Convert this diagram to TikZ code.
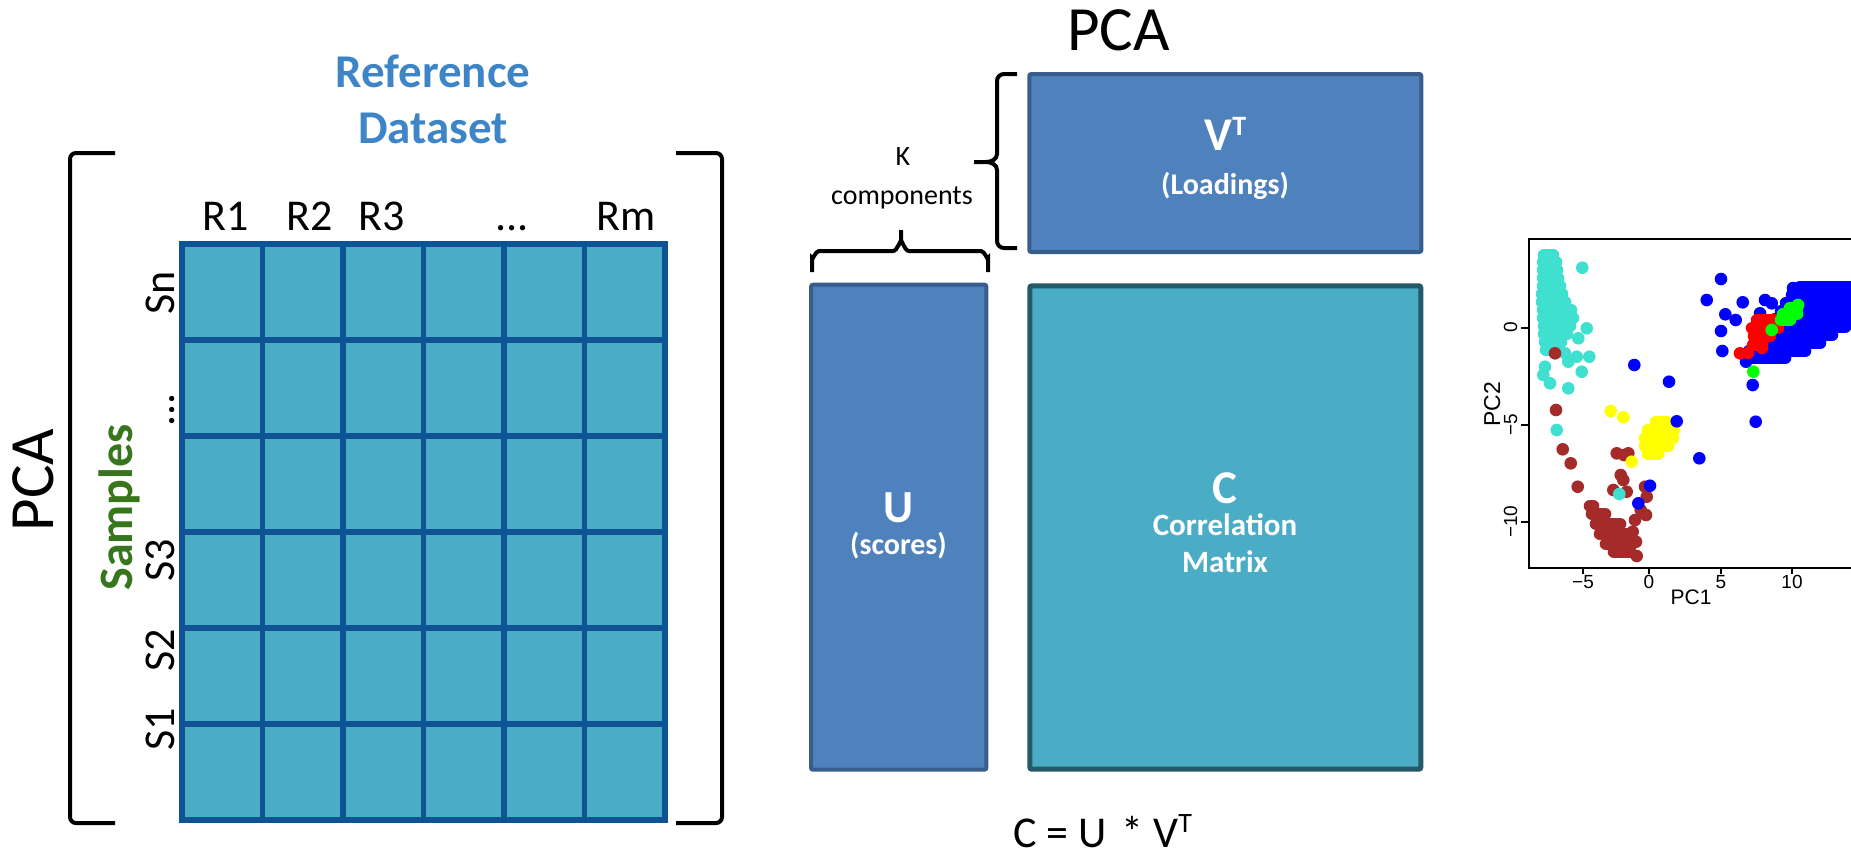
\documentclass[tikz,border=0pt]{standalone}
\usepackage{fontspec}
\setmainfont{Carlito}
\newfontfamily\plotfont{Liberation Sans}
\newcommand\myfs[1]{\fontsize{#1}{#1}\selectfont}
\definecolor{gridfill}{RGB}{75,172,198}
\definecolor{gridline}{RGB}{14,84,148}
\definecolor{boxblue}{RGB}{79,129,189}
\definecolor{boxblueedge}{RGB}{56,93,138}
\definecolor{boxteal}{RGB}{75,172,198}
\definecolor{boxtealedge}{RGB}{35,89,104}
\definecolor{refblue}{RGB}{61,133,198}
\definecolor{samplegreen}{RGB}{56,118,29}
\definecolor{pturq}{RGB}{64,224,208}
\definecolor{pbrown}{RGB}{165,42,42}
\definecolor{pyellow}{RGB}{255,255,0}
\definecolor{pblue}{RGB}{0,0,255}
\definecolor{pred}{RGB}{255,0,0}
\definecolor{pgreen}{RGB}{0,255,0}
\begin{document}
\begin{tikzpicture}[x=1pt,y=-1pt,
  lbl/.style={inner sep=0, anchor=base},
  rlbl/.style={inner sep=0, anchor=base, rotate=90},
  gridstroke/.style={draw=gridline, line width=5.3, line cap=rect},
  brk/.style={draw=black, line width=4, rounded corners=6},
  bracestroke/.style={draw=black, line width=4},
  ubox/.style={draw=boxblueedge, fill=boxblue, line width=4, rounded corners=2, inner sep=0},
  cbox/.style={draw=boxtealedge, fill=boxteal, line width=5, rounded corners=2, inner sep=0},
  wtxt/.style={inner sep=0, anchor=base, text=white},
  dotrow/.style={line width=12.6, line cap=round}
]
\useasboundingbox (0,0) rectangle (1851,855);

% ---------- left matrix ----------
\fill[gridfill] (182,244) rectangle (665,820);
\foreach \i in {0,...,6} \draw[gridstroke] ({182+80.5*\i},244) -- ({182+80.5*\i},820);
\foreach \j in {0,...,6} \draw[gridstroke] (182,{244+96*\j}) -- (665,{244+96*\j});

\draw[brk] (115,153) -- (70,153) -- (70,823) -- (115,823);
\draw[brk] (676,153) -- (722,153) -- (722,823) -- (676,823);

\node[lbl, text=refblue] (ref1) at (433,87.3) {\myfs{47}\bfseries Reference};
\node[lbl, text=refblue] (ref2) at (433,143.3) {\myfs{47}\bfseries Dataset};

\node[lbl] (r1) at (226,230) {\myfs{44}R1};
\node[lbl] (r2) at (310,230) {\myfs{44}R2};
\node[lbl] (r3) at (382,230) {\myfs{44}R3};
\node[lbl] (rdots) at (512,230) {\myfs{44}...};
\node[lbl] (rm) at (626,230) {\myfs{44}Rm};

\node[rlbl] (sn) at (174,293) {\myfs{44}Sn};
\node[rlbl] (sdots) at (174,410) {\myfs{44}...};
\node[rlbl] (s3) at (174,560) {\myfs{44}S3};
\node[rlbl] (s2) at (174,650) {\myfs{44}S2};
\node[rlbl] (s1) at (174,729) {\myfs{44}S1};

\node[rlbl, text=samplegreen] (samples) at (132.7,507.5) {\myfs{48}\bfseries Samples};
\node[rlbl] (pcaleft) at (53,480) {\myfs{63}PCA};

% ---------- middle decomposition ----------
\node[lbl] (pcatop) at (1118.5,50) {\myfs{63}PCA};

\node[ubox, minimum width=392, minimum height=178] (vt) at (1225.3,163) {};
\node[ubox, minimum width=175.3, minimum height=485] (u) at (898.7,527.2) {};
\node[cbox, minimum width=391, minimum height=483.4] (c) at (1225.3,527.5) {};

\node[wtxt] (vtl) at (1225.5,150.7) {\myfs{47}\bfseries V\raisebox{15.5pt}{\myfs{28}\bfseries T}};
\node[wtxt] (load) at (1225,194.3) {\myfs{30}\bfseries (Loadings)};
\node[wtxt] (ul) at (898.5,522) {\myfs{46}\bfseries U};
\node[wtxt] (scores) at (898.5,554) {\myfs{30}\bfseries (scores)};
\node[wtxt] (cl) at (1225,503.5) {\myfs{47}\bfseries C};
\node[wtxt] (corr) at (1225,535.5) {\myfs{31}\bfseries Correlation};
\node[wtxt] (matr) at (1225,572.5) {\myfs{31}\bfseries Matrix};

\node[lbl] (k1) at (903,165.7) {\myfs{28}K};
\node[lbl] (k2) at (902,204) {\myfs{28}components};

% vertical brace
\draw[bracestroke] (1017,74) -- (1004,74) to[out=180,in=90] (997,81) -- (997,154)
   to[out=-90,in=0] (986,162) -- (974,162) -- (986,162) to[out=0,in=90] (997,170)
   -- (997,241) to[out=-90,in=180] (1004,248) -- (1017,248);
% horizontal brace
\draw[bracestroke] (812,272) -- (812,258) to[out=-90,in=180] (819,251) -- (893,251)
   to[out=0,in=90] (901,242) -- (901,230) -- (901,242) to[out=90,in=180] (909,251)
   -- (981,251) to[out=0,in=-90] (988,258) -- (988,272);

\node[lbl] (formula) at (1102.5,847.5) {\myfs{44}C = U\hspace{5pt} * V\raisebox{15pt}{\myfs{28}T}};

% ---------- scatter plot ----------
\begin{scope}
\clip (1440,200) rectangle (1851,620);
% turquoise
\foreach \y/\a/\b in {255/1544/1553,262/1543/1556,270/1543/1557,278/1543/1558,286/1543/1560,
  294/1542/1562,302/1542/1565,310/1543/1571,318/1543/1573,326/1544/1570,334/1544/1567,
  342/1545/1561,350/1546/1555}
  \draw[dotrow, pturq] (\a,\y) -- (\b,\y);
\foreach \x/\y in {1582.3/267.7,1586.7/328.3,1578.3/338.3,1565/353.3,1576.7/356.7,1589.3/356.7,
  1581.7/371.7,1568.3/361.7,1545/366.7,1550/383.3,1568.3/388.3,1556.7/430,1543.3/375}
  \fill[pturq] (\x,\y) circle[radius=6.3];
% brown
\foreach \y/\a/\b in {506/1590/1593,514/1592/1605,524/1596/1620,534/1600/1630,544/1606/1632,552/1614/1630}
  \draw[dotrow, pbrown] (\a,\y) -- (\b,\y);
\foreach \x/\y in {1555/353.3,1556/410,1562.7/449.3,1570.7/463.3,1577.7/486.7,1616.7/453.3,
  1624/455,1628.3/453.3,1620.7/475,1623.3/480,1613.3/490,1626.7/491.7,1645/486.7,1646.7/496.7,
  1640.7/510,1646/515,1635/520,1632.7/531.7,1636/541.7,1636.7/556}
  \fill[pbrown] (\x,\y) circle[radius=6.3];
\fill[pturq] (1619.3,494) circle[radius=6.3];
% yellow
\foreach \y/\a/\b in {422/1656/1667,430/1648/1674,438/1645/1673,446/1645/1668,454/1648/1658}
  \draw[dotrow, pyellow] (\a,\y) -- (\b,\y);
\foreach \x/\y in {1610.7/411,1623.3/417.3,1631.7/461.7}
  \fill[pyellow] (\x,\y) circle[radius=6.3];
% blue
\foreach \y/\a/\b in {287/1800/1852,295/1792/1852,303/1786/1852,311/1781/1852,319/1775/1852,
  327/1768/1845,335/1762/1832,343/1757/1820,351/1749/1805,358/1748/1785}
  \draw[dotrow, pblue] (\a,\y) -- (\b,\y);
\foreach \x/\y in {1634.3/365,1669/381.7,1676.7/421.3,1699.3/458.3,1650/485.7,1638.3/503.3,
  1721/279,1706.7/300,1725.3/314.3,1742.7/302.3,1735.7/320,1721/331,1722.3/351,1765/300,
  1771.7/303.3,1760/313.3,1752.7/385,1755.7/421.7,1746/361.7,1793/288}
  \fill[pblue] (\x,\y) circle[radius=6.3];
% red
\foreach \y/\a/\b in {320/1757/1775,328/1752/1778,336/1754/1770,344/1756/1762}
  \draw[dotrow, pred] (\a,\y) -- (\b,\y);
\foreach \x/\y in {1740/353.3,1748/353,1753/345,1762/348}
  \fill[pred] (\x,\y) circle[radius=6.3];
% green
\foreach \y/\a/\b in {308/1790/1797,314/1783/1797,320/1781/1790}
  \draw[dotrow, pgreen] (\a,\y) -- (\b,\y);
\foreach \x/\y in {1753.3/371.7,1771.7/330,1790/308.3,1798/305}
  \fill[pgreen] (\x,\y) circle[radius=6.3];

% frame and ticks
\draw[line width=1.6] (1860,239) -- (1529,239) -- (1529,568) -- (1860,568);
\foreach \y in {327.7,424.7,521.7} \draw[line width=1.6] (1521,\y) -- (1529,\y);
\foreach \x in {1583,1649,1721,1792} \draw[line width=1.6] (\x,568) -- (\x,574);
\node[rlbl] (yt0) at (1517,327.7) {\plotfont\myfs{19}0};
\node[rlbl] (yt5) at (1517,424.7) {\plotfont\myfs{19}−5};
\node[rlbl] (yt10) at (1517,521.7) {\plotfont\myfs{19}−10};
\node[lbl] (xt5) at (1583,588) {\plotfont\myfs{19}−5};
\node[lbl] (xt0) at (1649,588) {\plotfont\myfs{19}0};
\node[lbl] (xtp5) at (1721,588) {\plotfont\myfs{19}5};
\node[lbl] (xt10) at (1792,588) {\plotfont\myfs{19}10};
\node[rlbl] (pc2) at (1500,404) {\plotfont\myfs{23}PC2};
\node[lbl] (pc1) at (1691,604) {\plotfont\myfs{21}PC1};
\end{scope}
\end{tikzpicture}
\end{document}
